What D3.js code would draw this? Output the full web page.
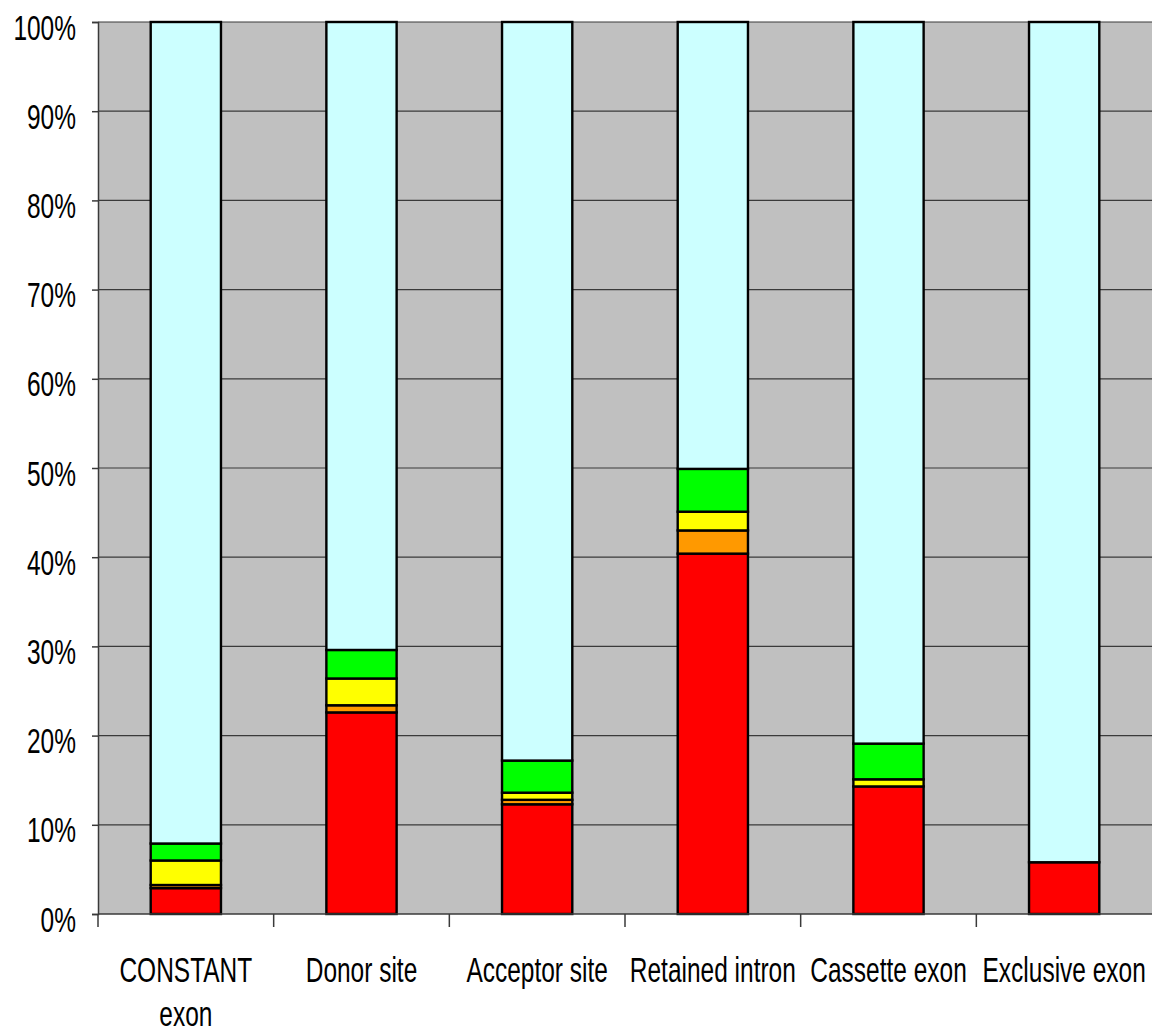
<!DOCTYPE html>
<html>
<head>
<meta charset="utf-8">
<script src="https://cdn.jsdelivr.net/npm/d3@7"></script>
<style>
  html, body { margin: 0; padding: 0; background: #ffffff; }
  svg { display: block; }
  text { font-family: "Liberation Sans", Arial, sans-serif; fill: #000; }
</style>
</head>
<body>
<svg id="chart" width="1152" height="1031"></svg>
<script>
// Event categories along the x axis (line breaks mark label wrapping)
const categories = ["CONSTANT\nexon", "Donor site", "Acceptor site", "Retained intron", "Cassette exon", "Exclusive exon"];

// Percentage of events per class, stacked bottom to top
const redValues    = [2.9, 22.6, 12.3, 40.4, 14.3, 5.8];
const orangeValues = [0.35, 0.8, 0.5, 2.6, 0.0, 0.0];
const yellowValues = [2.75, 3.0, 0.8, 2.1, 0.8, 0.0];
const greenValues  = [1.9, 3.2, 3.6, 4.8, 4.0, 0.0];
const cyanValues   = [92.1, 70.4, 82.8, 50.1, 80.9, 94.2];

const seriesKeys = ["red", "orange", "yellow", "green", "cyan"];
const seriesColors = ["#ff0000", "#ff9900", "#ffff00", "#00ff00", "#ccffff"];

const yTicks = [0, 10, 20, 30, 40, 50, 60, 70, 80, 90, 100];

const rows = categories.map((c, i) => ({
  category: c,
  red: redValues[i],
  orange: orangeValues[i],
  yellow: yellowValues[i],
  green: greenValues[i],
  cyan: cyanValues[i]
}));

const svg = d3.select("#chart");
const plot = { left: 98, right: 1152, top: 22, bottom: 914 };
const labelFont = "35px";
const squeeze = 0.7; // horizontal condensing of the label type

const x = d3.scaleBand()
  .domain(categories)
  .range([plot.left, plot.right])
  .paddingInner(0.6)
  .paddingOuter(0.3);

const y = d3.scaleLinear()
  .domain([0, 100])
  .range([plot.bottom, plot.top]);

const color = d3.scaleOrdinal().domain(seriesKeys).range(seriesColors);

// Grey plot background
svg.append("rect")
  .attr("x", plot.left).attr("y", plot.top)
  .attr("width", plot.right - plot.left).attr("height", plot.bottom - plot.top)
  .attr("fill", "#c0c0c0");

// Horizontal gridlines
svg.append("g")
  .selectAll("line")
  .data(yTicks.filter(t => t > 0))
  .join("line")
  .attr("x1", plot.left).attr("x2", plot.right)
  .attr("y1", d => y(d)).attr("y2", d => y(d))
  .attr("stroke", "#3a3a3a").attr("stroke-width", 1.2);

// Stacked bars
const stacked = d3.stack().keys(seriesKeys)(rows);
svg.append("g")
  .selectAll("g")
  .data(stacked)
  .join("g")
  .attr("fill", d => color(d.key))
  .selectAll("rect")
  .data(d => d.filter(p => p[1] - p[0] > 0))
  .join("rect")
  .attr("x", d => x(d.data.category))
  .attr("width", x.bandwidth())
  .attr("y", d => y(d[1]))
  .attr("height", d => y(d[0]) - y(d[1]))
  .attr("stroke", "#000").attr("stroke-width", 2.4);

// Y axis
const yAxis = svg.append("g")
  .attr("transform", `translate(${plot.left},0)`)
  .call(d3.axisLeft(y).tickValues(yTicks).tickSize(6).tickFormat(d => d + "%"));
yAxis.select(".domain").attr("stroke", "#3a3a3a").attr("stroke-width", 1.5);
yAxis.selectAll(".tick line").attr("stroke", "#3a3a3a").attr("stroke-width", 1.5);
yAxis.selectAll(".tick text")
  .attr("x", 0).attr("dy", null).attr("y", 0)
  .style("font-size", labelFont)
  .attr("text-anchor", "end")
  .attr("transform", `translate(-22,17) scale(${squeeze},1)`);

// X axis with ticks at category boundaries
svg.append("line")
  .attr("x1", plot.left).attr("x2", plot.right)
  .attr("y1", plot.bottom).attr("y2", plot.bottom)
  .attr("stroke", "#3a3a3a").attr("stroke-width", 1.5);

const boundaries = categories.map(c => x(c) - x.step() * x.paddingOuter());
svg.append("g")
  .selectAll("line")
  .data(boundaries)
  .join("line")
  .attr("x1", d => d).attr("x2", d => d)
  .attr("y1", plot.bottom).attr("y2", plot.bottom + 13)
  .attr("stroke", "#3a3a3a").attr("stroke-width", 1.5);

// Category labels
const labels = svg.append("g")
  .selectAll("text")
  .data(categories)
  .join("text")
  .attr("text-anchor", "middle")
  .style("font-size", labelFont)
  .attr("transform", d => `translate(${x(d) + x.bandwidth() / 2},982) scale(${squeeze},1)`);
labels.selectAll("tspan")
  .data(d => d.split("\n"))
  .join("tspan")
  .attr("x", 0)
  .attr("y", (d, i) => i * 44)
  .text(d => d);
</script>
</body>
</html>
